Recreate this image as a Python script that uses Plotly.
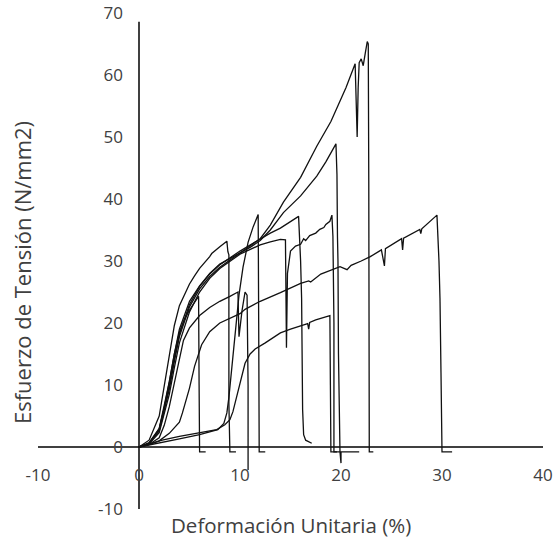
import plotly.graph_objects as go

# ---- data (strain %, stress N/mm2) ----
a_x = [0, 1, 2, 2.5, 3, 3.5, 4, 5, 6, 7, 8, 10, 11, 12, 13, 14.3, 16, 17.6, 19, 19.7, 20.5, 21.4, 21.5, 21.6, 21.7, 21.8, 22.0, 22.2, 22.4, 22.6, 22.7, 22.7, 22.75, 22.8, 23.2]
a_y = [0, 0.7, 3, 6.5, 10.5, 15, 19, 23.5, 26, 28, 29.5, 31.3, 32.4, 33.6, 35.8, 39.5, 43.5, 48.5, 52.5, 55, 58, 61.8, 57, 50, 58, 62, 62.6, 61.5, 63.5, 65.4, 65, 46, 43, -0.8, -0.8]

b_x = [0, 1, 2, 2.5, 3, 3.5, 4, 5, 6, 7, 8, 10, 11, 12, 13, 14.3, 16, 17.6, 18.5, 19.5, 19.6, 19.65, 19.7, 19.75, 19.8, 19.9, 20.0, 20.0, 21.8]
b_y = [0, 0.6, 2.6, 5.8, 9.3, 13.8, 17.8, 22.6, 25.5, 27.5, 29, 31.3, 32.2, 33.3, 35, 37.8, 40.5, 43.7, 46, 48.9, 44, 34, 30, 15, 11, -0.8, -2.6, -0.8, -0.8]

c_x = [0, 1, 2, 2.5, 3, 3.5, 4, 5, 6, 7, 8, 10, 11, 12, 13, 14, 15, 15.8, 16.0, 16.1, 16.2, 16.3, 16.5, 16.8, 17.1]
c_y = [0, 0.6, 2.8, 6.2, 9.8, 14.3, 18.2, 23, 25.9, 27.9, 29.4, 31.6, 32.6, 33.6, 34.5, 35.3, 36.3, 37.2, 30, 24, 6, 2, 1.1, 0.8, 0.6]

d_x = [0, 1, 2, 2.5, 3, 3.5, 4, 5, 6, 7, 8, 10, 12, 13, 14, 14.5, 14.6, 14.7, 15, 15.5, 16, 16.3, 16.5, 16.9, 17.5, 17.9, 18.3, 18.5, 18.9, 19.1, 19.2, 19.3, 19.3, 19.9]
d_y = [0, 0.5, 2.3, 5.2, 8.5, 12.8, 16.8, 21.8, 25, 27.2, 28.8, 31.1, 32.6, 33.1, 33.5, 33.4, 16, 28, 31.6, 32.4, 32.7, 33.6, 33.3, 34.1, 34.5, 35.1, 35.4, 35.9, 36.4, 37.4, 34, 20, -0.8, -0.8]

e_x = [0, 1, 2, 2.5, 3, 3.5, 4, 5, 5.5, 6, 7, 7.2, 8, 8.7, 8.8, 8.9, 8.9, 9.0, 9.6]
e_y = [0, 1.1, 5.0, 10.0, 15.2, 19.6, 22.8, 26.3, 27.6, 28.8, 30.7, 31.2, 32.3, 33.2, 31.5, 31, 7, -0.8, -0.8]

f_x = [0, 1, 2, 2.5, 3, 3.5, 4, 4.5, 5, 5.5, 5.9, 5.95, 6.0, 6.6]
f_y = [0, 0.6, 2.9, 6.3, 10.5, 15, 18.5, 20.6, 22.1, 23.3, 24.3, 10, -0.8, -0.8]

g_x = [0, 1, 2, 2.5, 3, 3.5, 4, 4.4, 5, 6, 7, 8, 9, 9.8, 9.85, 9.9, 10.2, 10.5, 10.7, 10.8, 10.8]
g_y = [0, 0.4, 1.5, 3.5, 6.5, 10.3, 14.5, 17.2, 19.2, 21.2, 22.5, 23.5, 24.3, 25, 21, 17.8, 22, 25, 24.5, 10, -3.7]

h_x = [0, 1, 2, 3, 4, 4.3, 5, 5.5, 6.2, 7, 8, 9, 10, 10.5, 12, 14, 16, 16.8, 17, 18, 19.9, 20.6, 21, 22, 22.9, 24, 24.3, 24.4, 25, 26, 26.1, 26.2, 27.8, 27.9, 28, 29.5, 29.7, 29.8, 29.9, 30.0, 31]
h_y = [0, 0.4, 1, 2.2, 4, 5.5, 9.5, 13, 16.5, 18.6, 20, 20.8, 21.5, 22.2, 23.5, 24.9, 26.4, 26.8, 26.6, 27.9, 29.1, 28.6, 29.3, 30, 30.7, 31.8, 29.2, 32, 32.6, 33.6, 31.8, 33.7, 35.1, 34.4, 35.2, 37.4, 30, 24, 12, -0.8, -0.8]

i_x = [0, 1, 2.3, 4, 5.7, 7, 7.7, 8.5, 9, 9.3, 9.6, 10, 10.5, 11, 11.5, 12.5, 14, 15, 16, 16.7, 16.8, 16.9, 17.5, 18.9, 18.95, 19.0, 19.6]
i_y = [0, 0.5, 1.1, 1.7, 2.2, 2.5, 2.8, 3.6, 4.4, 5.7, 7.6, 10.3, 13.5, 15, 15.8, 16.8, 18.4, 19, 19.6, 19.9, 19.0, 20.1, 20.5, 21.2, 10, -0.8, -0.8]

j_x = [0, 1, 2, 4, 6, 7, 7.8, 8.4, 8.7, 8.9, 9.3, 9.6, 9.9, 10.3, 10.8, 11.3, 11.8, 11.85, 11.9, 12.5]
j_y = [0, 0.3, 0.7, 1.3, 2, 2.4, 2.8, 3.8, 5.5, 8, 15, 20, 24.5, 29, 33, 35.5, 37.5, 20, -0.8, -0.8]

curves = [(a_x, a_y), (b_x, b_y), (c_x, c_y), (d_x, d_y), (e_x, e_y),
          (f_x, f_y), (g_x, g_y), (h_x, h_y), (i_x, i_y), (j_x, j_y)]

x_ticks = [-10, 0, 10, 20, 30, 40]
y_ticks = [-10, 0, 10, 20, 30, 40, 50, 60, 70]
x_title = "Deformación Unitaria (%)"
y_title = "Esfuerzo de Tensión (N/mm2)"

FONT = "Open Sans"
TXT = "#404040"

fig = go.Figure()
for cx, cy in curves:
    fig.add_trace(go.Scatter(x=cx, y=cy, mode="lines",
                             line=dict(color="#111111", width=1.3),
                             showlegend=False, hoverinfo="skip"))

fig.update_layout(
    width=554, height=544,
    margin=dict(l=38, r=11, t=13, b=35, autoexpand=False),
    paper_bgcolor="white", plot_bgcolor="white",
    font=dict(family=FONT, color=TXT, size=17),
    xaxis=dict(range=[-10, 40], tickvals=x_ticks, ticktext=[str(v) for v in x_ticks],
               showgrid=False, zeroline=False, showline=False, automargin=False,
               anchor="free", position=10 / 80, ticks="", ticklabelstandoff=16,
               tickfont=dict(family=FONT, size=17, color=TXT)),
    yaxis=dict(range=[-10, 70], tickvals=y_ticks, ticktext=[str(v) for v in y_ticks],
               showgrid=False, zeroline=False, showline=False, automargin=False,
               anchor="free", position=10 / 50, ticks="", ticklabelstandoff=16,
               tickfont=dict(family=FONT, size=17, color=TXT)),
)

# axis lines crossing at the origin
fig.add_shape(type="line", xref="x", yref="y", x0=-10, x1=40, y0=0, y1=0,
              line=dict(color="black", width=1.5), layer="below")
fig.add_shape(type="line", xref="x", yref="y", x0=0, x1=0, y0=-10, y1=68.6,
              line=dict(color="black", width=1.5), layer="below")

fig.add_annotation(text=x_title, xref="paper", yref="paper", x=(291 - 38) / 505, y=-(525 - 509) / 496,
                   showarrow=False, font=dict(family=FONT, size=20.5, color=TXT),
                   xanchor="center", yanchor="middle")
fig.add_annotation(text=y_title, xref="paper", yref="paper", x=-(38 - 22) / 505, y=(509 - 273) / 496,
                   showarrow=False, textangle=-90, font=dict(family=FONT, size=22, color=TXT),
                   xanchor="center", yanchor="middle")

fig.write_html("out.html")
